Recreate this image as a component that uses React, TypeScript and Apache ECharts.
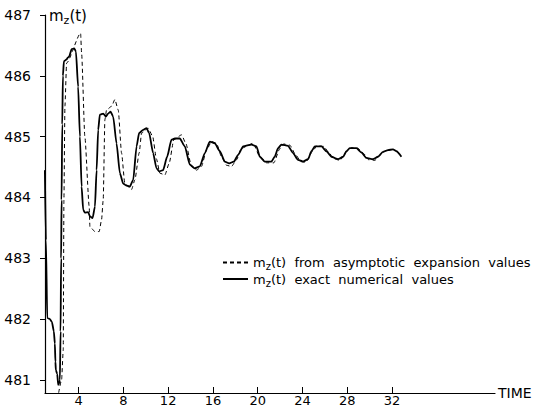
import React, { useEffect, useRef } from "react";
import * as echarts from "echarts";

// time values and m_z(t) values
const exactT = [0.99, 1.08, 1.2, 1.44, 1.62, 1.79, 1.88, 1.93, 1.97, 2.09, 2.18, 2.29, 2.33, 2.39, 2.44, 2.48, 2.54, 2.6, 2.69, 2.93, 3.04, 3.16, 3.38, 3.61, 3.76, 3.96, 4.12, 4.27, 4.41, 4.56, 4.86, 5.01, 5.25, 5.46, 5.61, 5.75, 5.9, 6.2, 6.44, 6.64, 6.86, 7.09, 7.39, 7.69, 7.98, 8.22, 8.58, 8.88, 9.18, 9.41, 9.77, 10.07, 10.3, 10.66, 10.96, 11.2, 11.55, 11.91, 12.3, 12.6, 13.04, 13.49, 13.94, 14.38, 14.83, 15.28, 15.72, 16.17, 16.62, 17.06, 17.45, 17.87, 18.25, 18.7, 19.45, 19.89, 20.19, 20.63, 21.23, 21.52, 21.82, 22.12, 22.71, 23.16, 23.6, 24.05, 24.5, 24.8, 25.1, 25.7, 26.14, 26.59, 27.18, 27.63, 27.93, 28.22, 28.82, 29.27, 29.71, 30.3, 30.75, 31.19, 31.64, 32.09, 32.39, 32.84];
const exactV = [484.45, 483.3, 482.02, 482.0, 481.95, 481.8, 481.6, 481.3, 481.16, 481.1, 480.92, 480.95, 481.0, 481.8, 483.0, 483.96, 485.2, 486.0, 486.24, 486.27, 486.3, 486.32, 486.44, 486.45, 486.4, 485.82, 485.0, 484.18, 483.8, 483.75, 483.76, 483.69, 483.66, 483.85, 484.45, 485.11, 485.36, 485.38, 485.33, 485.38, 485.41, 485.33, 484.89, 484.4, 484.23, 484.2, 484.18, 484.29, 484.84, 485.06, 485.11, 485.14, 485.06, 484.73, 484.48, 484.43, 484.45, 484.67, 484.95, 484.97, 484.97, 484.84, 484.54, 484.48, 484.51, 484.73, 484.92, 484.89, 484.76, 484.59, 484.56, 484.59, 484.7, 484.84, 484.87, 484.84, 484.67, 484.59, 484.59, 484.67, 484.81, 484.87, 484.85, 484.73, 484.62, 484.59, 484.63, 484.76, 484.84, 484.84, 484.76, 484.67, 484.63, 484.67, 484.76, 484.81, 484.81, 484.74, 484.65, 484.63, 484.67, 484.75, 484.78, 484.79, 484.76, 484.67];

const asymT = [2.22, 2.48, 2.63, 2.69, 2.78, 2.93, 4.18, 4.27, 4.56, 4.95, 5.01, 5.46, 5.84, 6.05, 6.2, 6.35, 6.5, 6.95, 7.24, 7.54, 7.84, 8.13, 8.73, 9.03, 9.41, 9.63, 10.21, 10.61, 10.96, 11.26, 11.71, 12.09, 12.51, 13.2, 13.58, 14.09, 14.54, 14.98, 15.43, 15.88, 16.32, 16.77, 17.21, 17.66, 18.11, 18.55, 19.59, 20.19, 20.81, 21.44, 21.97, 22.33, 22.87, 23.4, 23.85, 24.29, 24.92, 25.28, 25.9, 26.35, 26.79, 27.33, 28.04, 28.4, 28.94, 29.47, 29.92, 30.45, 30.98, 31.43, 31.88];
const asymV = [480.79, 481.0, 481.49, 483.96, 485.5, 486.21, 486.7, 486.37, 485.0, 483.85, 483.52, 483.44, 483.44, 483.63, 483.96, 485.28, 485.44, 485.5, 485.61, 485.44, 484.73, 484.23, 484.13, 484.29, 484.73, 485.06, 485.14, 485.01, 484.63, 484.4, 484.37, 484.56, 484.95, 485.03, 484.89, 484.51, 484.45, 484.51, 484.78, 484.92, 484.89, 484.67, 484.53, 484.51, 484.62, 484.81, 484.89, 484.67, 484.57, 484.57, 484.8, 484.88, 484.86, 484.7, 484.59, 484.58, 484.76, 484.85, 484.84, 484.74, 484.64, 484.61, 484.77, 484.82, 484.81, 484.72, 484.62, 484.61, 484.7, 484.77, 484.79];

const xTicks = [4, 8, 12, 16, 20, 24, 28, 32];
const yTicks = [481, 482, 483, 484, 485, 486, 487];

const seriesNames = ["asymptotic", "exact"];
const legendTexts = ["  from  asymptotic  expansion  values", "  exact  numerical  values"];

const FONT = "DejaVu Sans";

export default function App() {
  const ref = useRef<HTMLDivElement>(null);
  useEffect(() => {
    if (!ref.current) return;
    const chart = echarts.init(ref.current, null, { renderer: "svg" });
    const zip = (t: number[], v: number[]) => t.map((x, i) => [x, v[i]]);
    const richBase = {
      m: { fontFamily: FONT, fontSize: 13, color: "#000", lineHeight: 18, verticalAlign: "middle" },
      s: { fontFamily: FONT, fontSize: 10, color: "#000", lineHeight: 11, verticalAlign: "bottom" },
    };
    chart.setOption({
      animation: false,
      backgroundColor: "#fff",
      textStyle: { fontFamily: FONT, color: "#000" },
      grid: { left: 45, top: 15, right: 50, bottom: 17, containLabel: false, outerBoundsMode: "none" },
      legend: {
        orient: "vertical",
        left: 222,
        top: 256,
        padding: 0,
        itemGap: 1,
        itemWidth: 25,
        itemHeight: 10,
        data: seriesNames,
        itemStyle: { color: "rgba(0,0,0,0)", borderColor: "rgba(0,0,0,0)", borderWidth: 0, opacity: 0 },
        formatter: (name: string) => {
          const idx = seriesNames.indexOf(name);
          return "{m|m}{s|z}{m|(t)" + legendTexts[idx] + "}";
        },
        textStyle: { rich: richBase },
      },
      xAxis: {
        type: "value",
        min: 1,
        max: 41.2,
        name: "TIME",
        nameLocation: "end",
        nameGap: 3,
        nameTextStyle: { fontFamily: FONT, fontSize: 14, color: "#000", verticalAlign: "middle" },
        axisLine: { show: true, onZero: false, lineStyle: { color: "#000", width: 1.2 } },
        axisTick: { show: true, inside: true, length: 6, customValues: xTicks, lineStyle: { color: "#000", width: 1 } },
        axisLabel: { show: true, customValues: xTicks, margin: 1, fontFamily: FONT, fontSize: 13, lineHeight: 13, color: "#000" },
        splitLine: { show: false },
      },
      yAxis: {
        type: "value",
        min: 480.786,
        max: 487,
        name: "{m|m}{s|z}{m|(t)}",
        nameLocation: "end",
        nameGap: -1,
        nameTextStyle: {
          align: "left",
          verticalAlign: "middle",
          padding: [0, 0, 0, 4],
          rich: {
            m: { fontFamily: FONT, fontSize: 15, color: "#000", lineHeight: 19, verticalAlign: "middle" },
            s: { fontFamily: FONT, fontSize: 11, color: "#000", lineHeight: 12, verticalAlign: "bottom" },
          },
        },
        axisLine: { show: true, onZero: false, lineStyle: { color: "#000", width: 1.2 } },
        axisTick: { show: true, inside: false, length: 5, customValues: yTicks, lineStyle: { color: "#000", width: 1 } },
        axisLabel: { show: true, customValues: yTicks, margin: 14, fontFamily: FONT, fontSize: 14, color: "#000" },
        splitLine: { show: false },
      },
      series: [
        {
          name: "asymptotic",
          type: "line",
          data: zip(asymT, asymV),
          symbol: "none",
          smooth: 0.2,
          smoothMonotone: "x",
          lineStyle: { color: "#000", width: 1, type: [4, 3] },
          itemStyle: { color: "#000" },
        },
        {
          name: "exact",
          type: "line",
          data: zip(exactT, exactV),
          symbol: "none",
          smooth: 0.2,
          smoothMonotone: "x",
          lineStyle: { color: "#000", width: 1.8 },
          itemStyle: { color: "#000" },
        },
      ],
    });
    return () => chart.dispose();
  }, []);
  return <div ref={ref} style={{ position: "fixed", left: 0, top: 0, width: 545, height: 410 }} />;
}
